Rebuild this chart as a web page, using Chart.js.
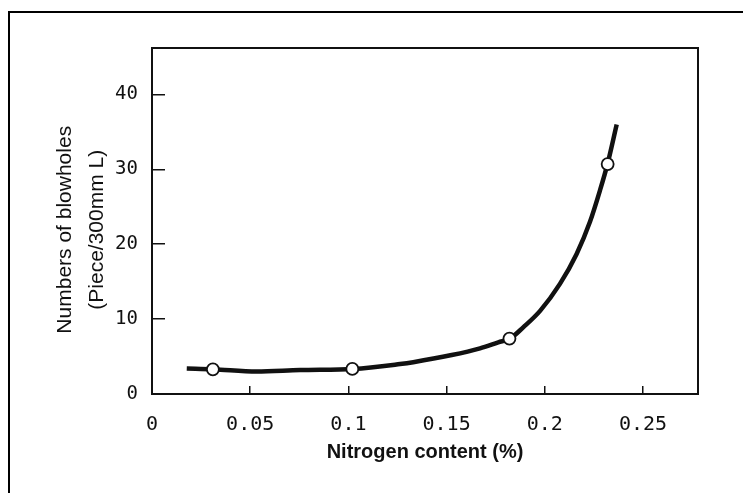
<!DOCTYPE html>
<html>
<head>
<meta charset="utf-8">
<script src="https://cdn.jsdelivr.net/npm/chart.js@4.4.1/dist/chart.umd.min.js"></script>
<style>
  html, body { margin: 0; padding: 0; background: #fff; overflow: hidden; }
  #wrap { position: relative; width: 743px; height: 493px; }
  #frame { position: absolute; left: 8px; top: 11px; width: 800px; height: 600px;
           border-top: 2px solid #000; border-left: 2px solid #000; pointer-events: none; }
  #canvas1 { position: absolute; left: 0; top: 0; }
</style>
</head>
<body>
<div id="wrap">
  <div id="frame"></div>
  <canvas id="canvas1" width="743" height="493"></canvas>
</div>
<script>
// measured points (open circles)
const nitrogen = [0.031, 0.102, 0.182, 0.232];
const blowholes = [3.3, 3.35, 7.4, 30.7];

// hand-drawn trend curve
const curveX = [0.0177, 0.031, 0.0533, 0.0754, 0.1026, 0.1263, 0.133, 0.1526, 0.167, 0.1763,
                0.1823, 0.189, 0.1976, 0.2077, 0.2162, 0.223, 0.2281, 0.2319, 0.2366];
const curveY = [3.4, 3.3, 3.0, 3.2, 3.35, 4.0, 4.25, 5.2, 6.1, 6.9,
                7.4, 8.9, 11.1, 14.7, 18.7, 23.0, 27.2, 30.7, 36.0];

const xTickLabels = ['0', '0.05', '0.1', '0.15', '0.2', '0.25'];
const yTickLabels = ['0', '10', '20', '30', '40'];

const boxPlugin = {
    id: 'box',
    afterDatasetsDraw(chart) {
        const a = chart.chartArea;
        const c = chart.ctx;
        c.save();
        c.strokeStyle = '#111';
        c.lineWidth = 2;
        c.strokeRect(a.left, a.top, a.right - a.left, a.bottom - a.top);
        c.restore();
    }
};

const ctx1 = document.getElementById('canvas1').getContext('2d');

const myChart1 = new Chart(ctx1, {
    type: 'scatter',
    data: {
        datasets: [{
            label: 'points',
            data: nitrogen.map((x, i) => ({ x: x, y: blowholes[i] })),
            backgroundColor: '#fff',
            borderColor: '#111',
            borderWidth: 1.8,
            pointRadius: 6,
            order: 0
        }, {
            label: 'curve',
            type: 'line',
            data: curveX.map((x, i) => ({ x: x, y: curveY[i] })),
            borderColor: '#111',
            borderWidth: 4.5,
            pointRadius: 0,
            fill: false,
            cubicInterpolationMode: 'monotone',
            order: 1
        }]
    },
    options: {
        responsive: false,
        animation: false,
        devicePixelRatio: 1,
        layout: { padding: { left: 0, top: 48, right: 45, bottom: 0 } },
        plugins: {
            legend: { display: false },
            tooltip: { enabled: false }
        },
        scales: {
            x: {
                type: 'linear',
                min: 0,
                max: 0.278,
                afterFit: s => { s.height = 99; },
                border: { display: false },
                grid: { drawOnChartArea: false, color: '#111', lineWidth: 1.5, tickLength: -8 },
                ticks: {
                    stepSize: 0.05,
                    includeBounds: false,
                    maxRotation: 0,
                    autoSkip: false,
                    padding: 27,
                    color: '#111',
                    font: { family: 'DejaVu Sans Mono', size: 20 },
                    callback: (v, i) => xTickLabels[i]
                },
                title: {
                    display: true,
                    text: 'Nitrogen content (%)',
                    color: '#111',
                    font: { family: 'Liberation Sans', size: 20, weight: 'bold' },
                    padding: { top: 0, bottom: 29 }
                }
            },
            y: {
                min: 0,
                max: 46.2,
                afterFit: s => { s.width = 152; },
                border: { display: false },
                grid: { drawOnChartArea: false, color: '#111', lineWidth: 1.5, tickLength: -13 },
                ticks: {
                    stepSize: 10,
                    includeBounds: false,
                    padding: 27,
                    color: '#111',
                    font: { family: 'DejaVu Sans Mono', size: 19 },
                    callback: (v, i) => yTickLabels[i]
                },
                title: {
                    display: true,
                    text: ['Numbers of blowholes   ', '(Piece/300mm L)   '],
                    color: '#111',
                    font: { family: 'Liberation Sans', size: 21, lineHeight: 1.52 },
                    padding: { top: 49, bottom: 0 }
                }
            }
        }
    },
    plugins: [boxPlugin]
});
</script>
</body>
</html>
